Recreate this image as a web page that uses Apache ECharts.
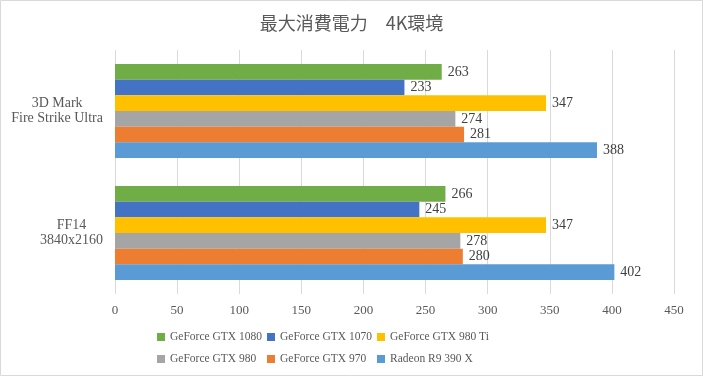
<!DOCTYPE html>
<html>
<head>
<meta charset="utf-8">
<script src="https://cdn.jsdelivr.net/npm/echarts@6/dist/echarts.min.js"></script>
<style>
  html, body { margin: 0; padding: 0; background: #fff; }
  #main { width: 703px; height: 376px; }
</style>
</head>
<body>
<div id="main"></div>
<script>
// データ
var categories = ['3D Mark\nFire Strike Ultra', 'FF14\n3840x2160'];
var seriesNames = ['GeForce GTX 1080', 'GeForce GTX 1070', 'GeForce GTX 980 Ti', 'GeForce GTX 980', 'GeForce GTX 970', 'Radeon R9 390 X'];
var gtx1080 = [263, 266];
var gtx1070 = [233, 245];
var gtx980ti = [347, 347];
var gtx980 = [274, 278];
var gtx970 = [281, 280];
var r9390x = [388, 402];
var colors = ['#70AD47', '#4472C4', '#FFC000', '#A5A5A5', '#ED7D31', '#5B9BD5'];

var allData = [gtx1080, gtx1070, gtx980ti, gtx980, gtx970, r9390x];
var serif = '"Liberation Serif", "DejaVu Serif", serif';

var chart = echarts.init(document.getElementById('main'));

var series = seriesNames.map(function (name, i) {
    return {
        name: name,
        type: 'bar',
        data: allData[i],
        barGap: '0%',
        barCategoryGap: '23%',
        itemStyle: { color: colors[i] },
        label: {
            show: true,
            position: 'right',
            distance: 6,
            color: '#404040',
            fontFamily: serif,
            fontSize: 14
        }
    };
});

// 凡例は3列（縦並びの凡例を3つ）
function makeLegend(names, left) {
    return {
        data: names,
        orient: 'vertical',
        left: left,
        top: 326,
        itemWidth: 8,
        itemHeight: 8,
        itemGap: 10,
        icon: 'rect',
        textStyle: { color: '#595959', fontFamily: serif, fontSize: 11.5 }
    };
}

var option = {
    animation: false,
    color: colors,
    title: {
        text: '最大消費電力　4K環境',
        left: 'center',
        top: 9,
        textStyle: {
            fontFamily: '"Noto Sans CJK JP", sans-serif',
            fontWeight: 'normal',
            fontSize: 18,
            color: '#595959'
        }
    },
    graphic: [{
        type: 'rect',
        shape: { x: 0.5, y: 0.5, width: 702, height: 375 },
        style: { fill: 'none', stroke: '#d9d9d9', lineWidth: 1 },
        silent: true
    }],
    legend: [
        makeLegend([seriesNames[0], seriesNames[3]], 152),
        makeLegend([seriesNames[1], seriesNames[4]], 262),
        makeLegend([seriesNames[2], seriesNames[5]], 372)
    ],
    grid: {
        left: 115,
        right: 29,
        top: 50,
        bottom: 82
    },
    xAxis: {
        type: 'value',
        min: 0,
        max: 450,
        interval: 50,
        axisLine: { show: false },
        axisTick: { show: false },
        axisLabel: { color: '#595959', fontFamily: serif, fontSize: 13, margin: 10 },
        splitLine: { lineStyle: { color: '#d9d9d9' } }
    },
    yAxis: {
        type: 'category',
        data: categories,
        inverse: true,
        axisLine: { show: false },
        axisTick: { show: false },
        axisLabel: {
            color: '#595959',
            fontFamily: serif,
            fontSize: 14,
            margin: 12,
            align: 'right',
            formatter: function (v) {
                return v.split('\n').map(function (s) { return '{c|' + s + '}'; }).join('\n');
            },
            rich: {
                c: { align: 'center', fontFamily: serif, fontSize: 14, color: '#595959', lineHeight: 15 }
            }
        }
    },
    series: series
};

chart.setOption(option);
</script>
</body>
</html>
